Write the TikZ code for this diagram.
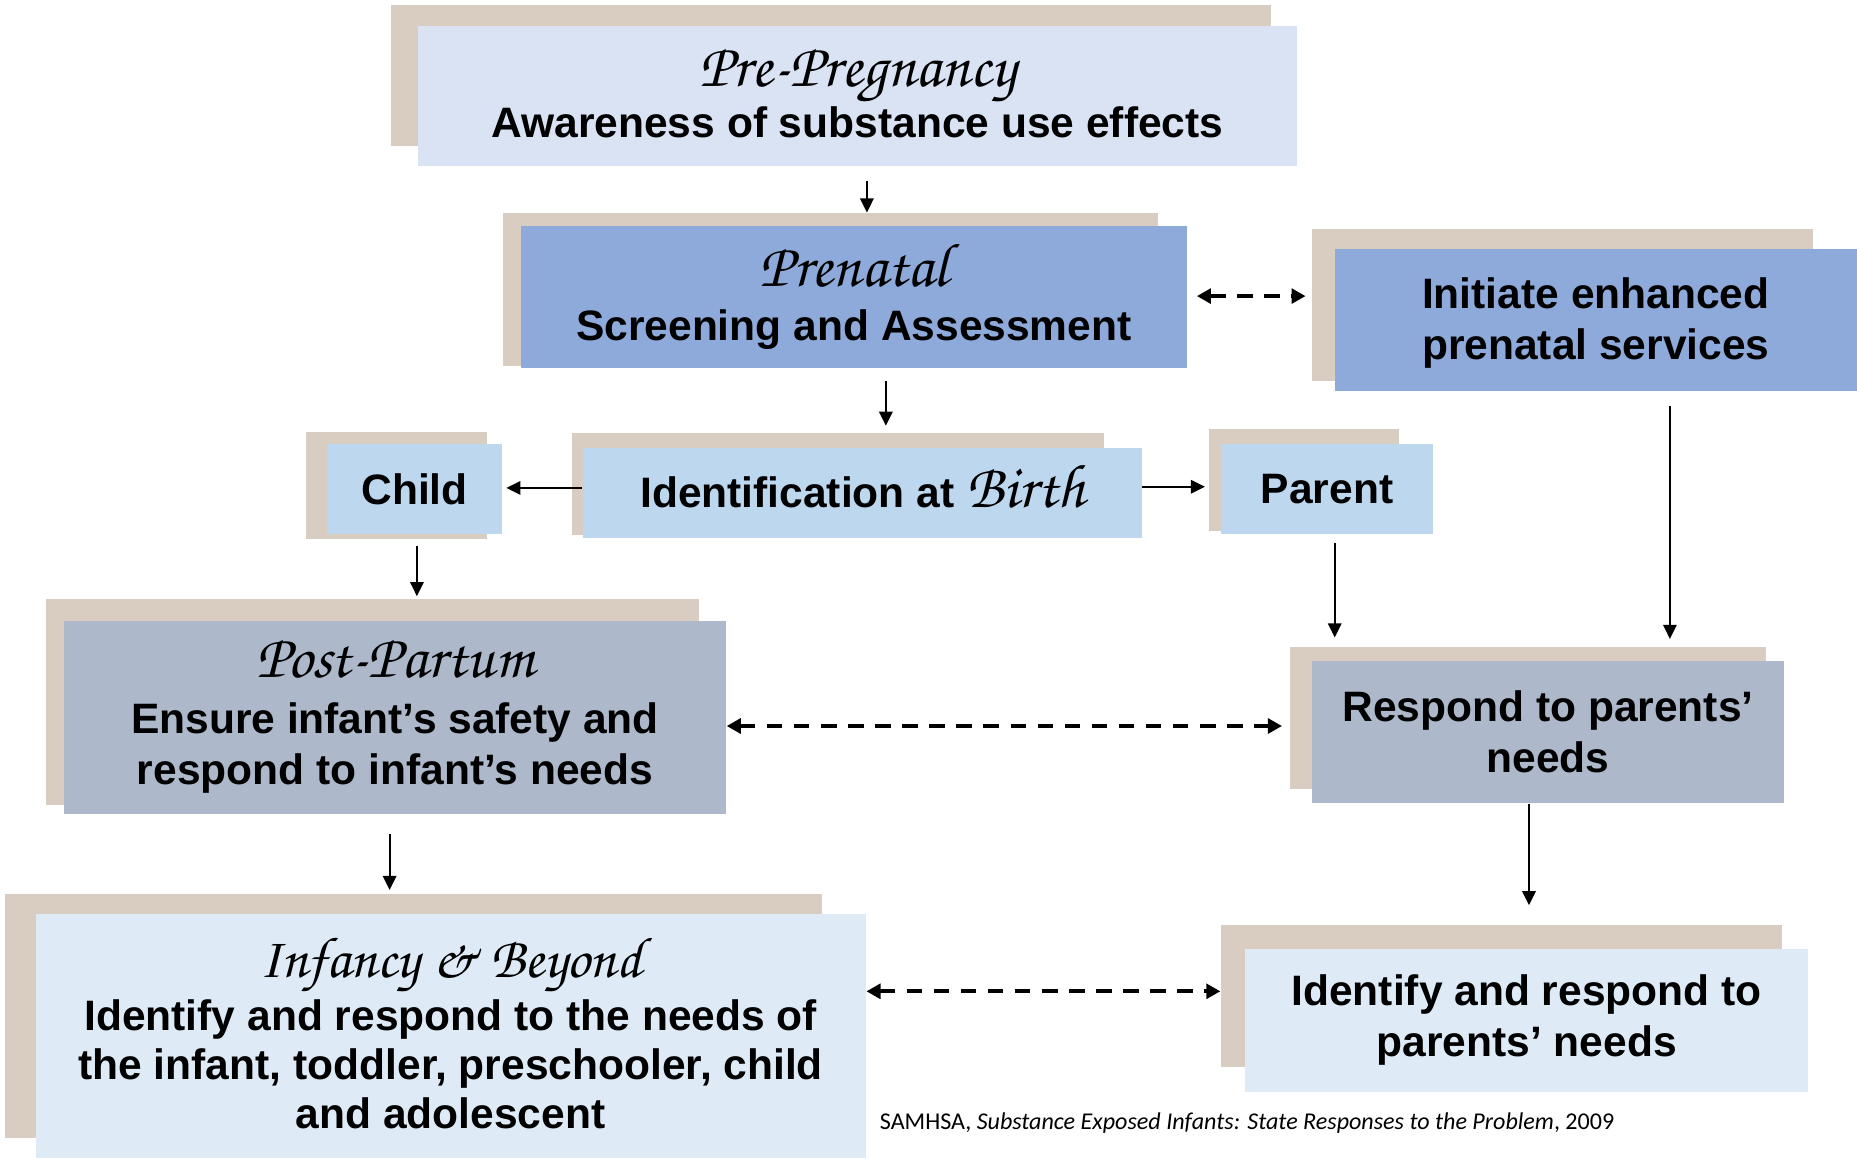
\documentclass[tikz,border=0pt]{standalone}
\usepackage{fontspec}
\setmainfont{Liberation Sans}
\newfontfamily\handfont{texgyrechorus-mediumitalic.otf}
\newfontfamily\citefont{Carlito}
\usetikzlibrary{arrows.meta,fit}
\definecolor{tanc}{RGB}{217,204,192}
\definecolor{lavc}{RGB}{218,227,243}
\definecolor{bluec}{RGB}{142,170,219}
\definecolor{skyc}{RGB}{189,215,238}
\definecolor{greyc}{RGB}{173,185,202}
\definecolor{palec}{RGB}{222,235,247}
\newcommand\handtxt[2][17.6]{{\handfont\mdseries\fontsize{#1}{#1}\selectfont #2}}
\begin{document}
\begin{tikzpicture}[x=0.011843cm,y=-0.011843cm,
    back/.style={fill=tanc,inner sep=0pt},
    box/.style={inner sep=0pt},
    txt/.style={inner sep=0pt,align=center,font=\fontsize{12.1}{14.5}\selectfont\bfseries},
    arr/.style={-{Triangle[length=4pt,width=3.8pt]},line width=0.6pt},
    darr/.style={{Triangle[length=4pt,width=4.2pt]}-{Triangle[length=4pt,width=4.2pt]},
      line width=1.1pt,dash pattern=on 4.4pt off 3.3pt}]
  \useasboundingbox (0,0) rectangle (1568,978);
  % shadows
  \node[back,fit={(330,4) (1073,123)}] (prepregbg) {};
  \node[back,fit={(425,180) (978,309)}] (prenatalbg) {};
  \node[back,fit={(1108,193) (1531,322)}] (initiatebg) {};
  \node[back,fit={(258,365) (411,455)}] (childbg) {};
  \node[back,fit={(483,366) (932,452)}] (identbg) {};
  \node[back,fit={(1021,362) (1181,448)}] (parentbg) {};
  \node[back,fit={(39,506) (590,680)}] (postpbg) {};
  \node[back,fit={(1089,546) (1491,666)}] (respondbg) {};
  \node[back,fit={(4,755) (694,961)}] (infancybg) {};
  \node[back,fit={(1031,781) (1505,901)}] (idparentbg) {};
  % boxes
  \node[box,fill=lavc,fit={(353,22) (1095,140)}] (prepreg) {};
  \node[box,fill=bluec,fit={(440,191) (1002,311)}] (prenatal) {};
  \node[box,fill=bluec,fit={(1127,210) (1568,330)}] (initiate) {};
  \node[box,fill=skyc,fit={(276,375) (424,451)}] (child) {};
  \node[box,fill=skyc,fit={(492,378) (964,454)}] (ident) {};
  \node[box,fill=skyc,fit={(1031,375) (1210,451)}] (parent) {};
  \node[box,fill=greyc,fit={(54,524) (613,687)}] (postp) {};
  \node[box,fill=greyc,fit={(1108,558) (1506,678)}] (respond) {};
  \node[box,fill=palec,fit={(30,772) (731,978)}] (infancy) {};
  \node[box,fill=palec,fit={(1051,801) (1527,922)}] (idparent) {};
  % texts
  \node[txt,yshift=0.8pt] (prepregtxt) at (prepreg.center)
    {\handtxt{Pre-Pregnancy}\\[0pt]Awareness of substance use effects};
  \node[txt] (prenataltxt) at (prenatal.center)
    {\handtxt{Prenatal}\\[1pt]Screening and Assessment};
  \node[txt,yshift=-1pt] (initiatetxt) at (initiate.center) {Initiate enhanced\\prenatal services};
  \node[txt] (childtxt) at (child.center) {Child};
  \node[txt] (identtxt) at (ident.center) {Identification at \smash{\handtxt{Birth}}};
  \node[txt] (parenttxt) at (parent.center) {Parent};
  \node[txt] (postptxt) at (postp.center)
    {\handtxt{Post-Partum}\\[1.5pt]Ensure infant’s safety and\\respond to infant’s needs};
  \node[txt] (respondtxt) at (respond.center) {Respond to parents’\\needs};
  \node[txt,font=\fontsize{12.1}{14}\selectfont\bfseries,yshift=0.8pt] (infancytxt) at (infancy.center)
    {\handtxt[16.4]{Infancy \& Beyond}\\[1pt]Identify and respond to the needs of\\the infant, toddler, preschooler, child\\and adolescent};
  \node[txt] (idparenttxt) at (idparent.center) {Identify and respond to\\parents’ needs};
  \node[font=\citefont\fontsize{6.85}{8}\selectfont] (cite) at (1053,948)
    {SAMHSA, \textit{Substance Exposed Infants: State Responses to the Problem}, 2009};
  % connectors
  \draw[arr,shorten <=4pt] (prepreg.south -| 732,0) -- (prenatalbg.north -| 732,0);
  \draw[darr,shorten <=2.7pt,shorten >=1.7pt] (prenatal.east |- 0,250) -- (initiatebg.west |- 0,250);
  \draw[arr,shorten <=3.4pt,shorten >=2pt] (prenatal.south -| 748,0) -- (identbg.north -| 748,0);
  \draw[arr,shorten >=1pt] (ident.west |- 0,412) -- (child.east |- 0,412);
  \draw[arr,shorten >=1pt] (ident.east |- 0,411) -- (parentbg.west |- 0,411);
  \draw[arr,shorten <=1.7pt,shorten >=0.7pt] (childbg.south -| 352,0) -- (postpbg.north -| 352,0);
  \draw[arr,shorten <=2.4pt,shorten >=2.4pt] (parent.south -| 1127,0) -- (respondbg.north -| 1127,0);
  \draw[arr,shorten <=4pt,shorten >=2pt] (initiate.south -| 1410,0) -- (respondbg.north -| 1410,0);
  \draw[darr,shorten >=2pt] (postp.east |- 0,613) -- (respondbg.west |- 0,613);
  \draw[arr,shorten <=5.7pt,shorten >=1pt] (postp.south -| 329,0) -- (infancybg.north -| 329,0);
  \draw[arr,shorten >=5.4pt] (respond.south -| 1291,0) -- (idparentbg.north -| 1291,0);
  \draw[darr] (infancy.east |- 0,837) -- (idparentbg.west |- 0,837);
\end{tikzpicture}
\end{document}
